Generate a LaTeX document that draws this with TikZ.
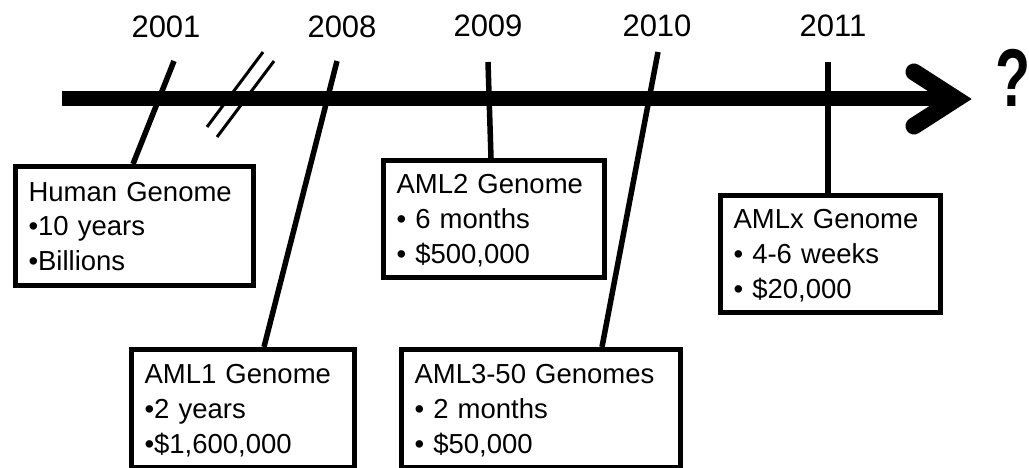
\documentclass[tikz,border=0pt]{standalone}
\usepackage{fontspec}
\setmainfont{Liberation Sans}
\newcommand{\tstrut}{\rule{0pt}{24pt}}
\newcommand{\bstrut}{\rule[-4pt]{0pt}{4pt}}
\begin{document}
\begin{tikzpicture}[x=1pt,y=-1pt,
  yearlbl/.style={font=\fontsize{31}{31}\selectfont, anchor=base, inner sep=0pt},
  tickline/.style={line width=5.5pt},
  breakmark/.style={line width=3pt},
  infobox/.style={draw, line width=5pt, anchor=north west, align=left,
    inner xsep=13pt, inner ysep=0pt,
    font=\fontsize{27.5}{35}\selectfont},
]
\useasboundingbox (0,0) rectangle (1029,468);
\fill[white] (0,0) rectangle (1029,468);

% axis
\coordinate (axstart) at (62,99);
\coordinate (axtip) at (956,99);
\coordinate (arrup) at (914,72);
\coordinate (arrdn) at (914,126);
\draw[line width=15pt] (axstart) -- (axtip);
\draw[line width=17pt, line cap=round, line join=miter] (arrup) -- (axtip) -- (arrdn);
\node[inner sep=0pt, anchor=base, font=\fontsize{82}{82}\selectfont\bfseries] (qm) at (1013,107) {\scalebox{0.7}[1]{?}};

% break marks
\coordinate (bk1a) at (263,52);
\coordinate (bk1b) at (207,127);
\coordinate (bk2a) at (274,61);
\coordinate (bk2b) at (217,137);
\draw[breakmark] (bk1a) -- (bk1b);
\draw[breakmark] (bk2a) -- (bk2b);

% years
\node[yearlbl] (y2001) at (166,38) {2001};
\node[yearlbl] (y2008) at (342,38) {2008};
\node[yearlbl] (y2009) at (488,37) {2009};
\node[yearlbl] (y2010) at (657,37) {2010};
\node[yearlbl] (y2011) at (833,37) {2011};

% boxes
\node[infobox, minimum width=238pt, minimum height=119pt, text width=212pt] (hg) at (13,164)
  {\tstrut Human Genome\\•10 years\\•Billions\bstrut};
\node[infobox, minimum width=223pt, minimum height=118pt, text width=197pt] (aml1) at (129,347)
  {\tstrut AML1 Genome\\•2 years\\•\$1,600,000\bstrut};
\node[infobox, minimum width=221pt, minimum height=117pt, text width=195pt] (aml2) at (381,158)
  {\tstrut AML2 Genome\\• 6 months\\• \$500,000\bstrut};
\node[infobox, minimum width=279pt, minimum height=118pt, text width=253pt] (aml3) at (399,347)
  {\tstrut AML3-50 Genomes\\• 2 months\\• \$50,000\bstrut};
\node[infobox, minimum width=220pt, minimum height=117pt, text width=194pt] (amlx) at (718,193)
  {\tstrut AMLx Genome\\• 4-6 weeks\\• \$20,000\bstrut};

% tick connectors
\coordinate (t2001) at (174,61);
\coordinate (b2001) at (133,164);
\coordinate (t2008) at (337,61);
\coordinate (b2008) at (264,347);
\coordinate (t2009) at (488,62);
\coordinate (b2009) at (491,158);
\coordinate (t2010) at (658,52);
\coordinate (b2010) at (602,347);
\coordinate (t2011) at (828,62);
\coordinate (b2011) at (828,193);
\draw[tickline] (t2001) -- (b2001);
\draw[tickline] (t2008) -- (b2008);
\draw[tickline] (t2009) -- (b2009);
\draw[tickline] (t2010) -- (b2010);
\draw[tickline] (t2011) -- (b2011);
\end{tikzpicture}
\end{document}
